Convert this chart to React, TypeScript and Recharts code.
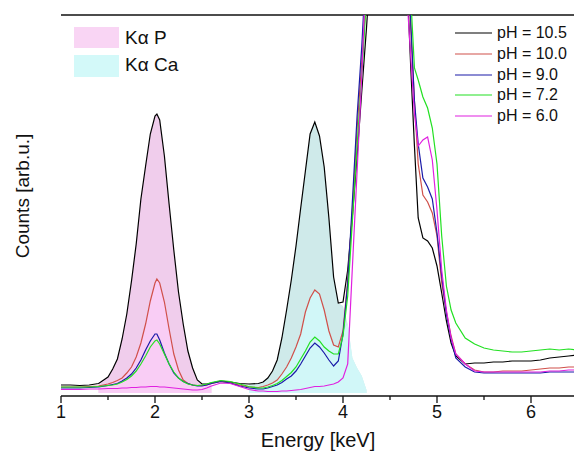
import React from 'react';
import { ComposedChart, Line, Area, XAxis, YAxis, ReferenceLine } from 'recharts';

// Energy grid [keV]
const energy = [
  1.0, 1.1, 1.2, 1.3, 1.4, 1.5, 1.55, 1.6, 1.65, 1.7, 1.75, 1.8, 1.85, 1.9, 1.95, 2.0, 2.02, 2.05, 2.1, 2.15,
  2.2, 2.25, 2.3, 2.35, 2.4, 2.45, 2.5, 2.55, 2.6, 2.7, 2.8, 2.9, 3.0, 3.1, 3.15, 3.2, 3.25, 3.3, 3.35, 3.4,
  3.45, 3.5, 3.55, 3.6, 3.65, 3.7, 3.75, 3.8, 3.85, 3.9, 3.95, 4.0, 4.05, 4.1, 4.15, 4.2, 4.25, 4.3, 4.45, 4.6,
  4.68, 4.72, 4.76, 4.8, 4.85, 4.9, 4.95, 5.0, 5.05, 5.1, 5.15, 5.2, 5.3, 5.4, 5.5, 5.6, 5.7, 5.8, 5.9, 6.0,
  6.1, 6.2, 6.3, 6.4, 6.5,
];

// Counts [arb.u.]
const ph105 = [
  11, 11, 10.5, 11, 12.5, 19, 27, 37, 57, 82, 115, 152, 197, 230, 262, 280, 282, 276, 240, 192,
  146, 104, 72, 45, 28, 16, 12, 12, 13, 15, 14, 12.5, 12, 12.5, 14, 18, 25, 36, 58, 86,
  116, 150, 188, 225, 262, 274, 260, 229, 178, 119, 93, 94, 126, 180, 240, 305, 368, 440, 900, 800,
  420, 330, 250, 178, 158, 155, 148, 130, 103, 75, 53, 40, 32, 33, 33, 34, 34, 35, 35, 35,
  36, 38, 39, 40, 41,
];
const ph100 = [
  9, 9, 9, 9.5, 10, 12, 13.5, 15.5, 18, 23, 29, 39, 53, 72, 95, 113, 117, 113, 94, 67,
  42, 26, 16, 12.5, 11, 10.5, 10.5, 11, 12.5, 14.5, 13, 11, 9, 8.5, 9.5, 11, 13, 16, 22, 29,
  38, 49, 62, 84, 98, 106, 102, 86, 65, 51, 49, 65, 115, 185, 268, 335, 400, 480, 900, 800,
  470, 370, 295, 232, 201, 194, 183, 160, 113, 84, 60, 42, 32, 26, 24, 24, 25, 25, 25, 26,
  27, 28, 28, 29, 29,
];
const ph90 = [
  8, 8, 8, 8.5, 9, 10.5, 11.5, 12.5, 15, 18, 22, 28, 36, 46, 55, 62, 62, 56, 43, 32,
  23, 18, 14.5, 12.5, 11, 10, 10, 11, 12.5, 14.5, 13, 10, 8, 7, 7, 8, 9.5, 11, 13.5, 17,
  20, 25, 32, 40, 48, 53, 49, 43, 36, 30, 35, 62, 112, 195, 280, 350, 440, 520, 900, 800,
  450, 375, 295, 252, 218, 209, 197, 163, 120, 82, 57, 38, 29, 24, 23, 23, 23, 23, 23, 23,
  23, 24, 24, 24, 24,
];
const ph72 = [
  9, 9, 9, 9, 9.5, 10.5, 11, 12, 14, 16.5, 20, 25, 32, 40, 49, 55, 56, 52, 42, 32,
  24, 18, 14.5, 12, 11, 10.5, 11, 12, 13.5, 15.5, 14.5, 12, 9.5, 8, 8, 9, 10.5, 12.5, 15.5, 19.5,
  23.5, 29, 37, 45, 54, 59, 55, 49, 45, 42, 42, 60, 100, 175, 250, 320, 400, 480, 900, 850,
  500, 400, 328, 316, 299, 288, 268, 232, 160, 110, 86, 73, 58, 52, 48, 46, 45, 44, 44, 45,
  46, 47, 46, 47, 46,
];
const ph60 = [
  6.5, 6.5, 6.5, 7, 7, 7.5, 7.5, 7.5, 8, 8, 8.5, 8.5, 9, 9, 9.5, 9.5, 9.5, 9, 9, 8.5,
  8, 7.5, 7, 6.5, 6, 6, 6.5, 8, 10, 13, 12.5, 9.5, 6.5, 5, 5, 4.5, 4.5, 4.5, 5, 5,
  5.5, 6, 6.5, 7.5, 8.5, 9.5, 9.5, 10, 11, 12, 14, 18, 32, 129, 225, 320, 440, 520, 900, 800,
  400, 340, 282, 250, 256, 259, 236, 186, 126, 86, 58, 42, 32, 25, 24, 24, 24, 24, 24, 24,
  24, 25, 25, 26, 26,
];

// Kα P / Kα Ca shaded regions (outer = envelope, inner = lighter core)
const kaPOuter = energy.map((e, i) => (e >= 1.4 && e <= 2.6 ? ph105[i] : null));
const kaPInner = energy.map((e, i) => (e >= 1.4 && e <= 2.6 ? ph100[i] : null));
const kaCaTail = [90, 72, 38, 28, 20, 6]; // 4.0 .. 4.25
const kaCaOuter = energy.map((e, i) => {
  if (e >= 3.0 && e <= 3.95) return ph105[i];
  if (e >= 4.0 && e <= 4.25) return kaCaTail[Math.round((e - 4.0) / 0.05)];
  return null;
});
const kaCaInner = energy.map((e, i) => {
  if (e >= 3.0 && e <= 3.95) return ph100[i];
  if (e >= 4.0 && e <= 4.25) return Math.min(ph100[i], kaCaTail[Math.round((e - 4.0) / 0.05)]);
  return null;
});

const xTicks = [1, 1.5, 2, 2.5, 3, 3.5, 4, 4.5, 5, 5.5, 6, 6.5];

const seriesNames = ['pH = 10.5', 'pH = 10.0', 'pH = 9.0', 'pH = 7.2', 'pH = 6.0'];
const seriesColors = ['#000000', '#d0504a', '#1a1aa8', '#22e022', '#e020e0'];
const seriesKeys = ['s105', 's100', 's90', 's72', 's60'];

const data = energy.map((e, i) => ({
  e,
  s105: ph105[i],
  s100: ph100[i],
  s90: ph90[i],
  s72: ph72[i],
  s60: ph60[i],
  pOut: kaPOuter[i],
  pIn: kaPInner[i],
  caOut: kaCaOuter[i],
  caIn: kaCaInner[i],
}));

const FONT = '"Liberation Sans", Arial, sans-serif';

const XTick = (props: any) => {
  const { x, y, payload } = props;
  const v = payload.value;
  const major = Number.isInteger(v);
  return (
    <g>
      <line x1={x} x2={x} y1={y} y2={y + (major ? 7 : 4)} stroke="#111" strokeWidth={1.3} />
      {major && (
        <text x={x} y={y + 22} textAnchor="middle" fontSize={18} fontFamily={FONT} fill="#111">
          {v}
        </text>
      )}
    </g>
  );
};

export default function App() {
  return (
    <div
      style={{
        position: 'absolute',
        left: 0,
        top: 0,
        width: 574,
        height: 455,
        overflow: 'hidden',
        background: '#fff',
        fontFamily: FONT,
      }}
    >
      <ComposedChart
        width={625}
        height={455}
        data={data}
        margin={{ top: 15, right: 0, bottom: 0, left: 61 }}
      >
        <XAxis
          dataKey="e"
          type="number"
          domain={[1, 7]}
          ticks={xTicks}
          allowDataOverflow
          axisLine={{ stroke: '#111', strokeWidth: 1.3 }}
          tickLine={false}
          tickSize={0}
          tickMargin={0}
          height={59}
          tick={<XTick />}
          interval={0}
        />
        <YAxis
          type="number"
          domain={[0, 381]}
          allowDataOverflow
          width={0}
          tick={false}
          tickLine={false}
          axisLine={{ stroke: '#111', strokeWidth: 1.3 }}
        />
        <ReferenceLine y={381} stroke="#111" strokeWidth={1.3} ifOverflow="extendDomain" />
        <Area dataKey="pOut" type="linear" baseValue={3} stroke="none" fill="#f0cdec" fillOpacity={1} isAnimationActive={false} connectNulls={false} />
        <Area dataKey="pIn" type="linear" baseValue={3} stroke="none" fill="#f9cdf5" fillOpacity={1} isAnimationActive={false} connectNulls={false} />
        <Area dataKey="caOut" type="linear" baseValue={3} stroke="none" fill="#cfeaea" fillOpacity={1} isAnimationActive={false} connectNulls={false} />
        <Area dataKey="caIn" type="linear" baseValue={3} stroke="none" fill="#d1f7f8" fillOpacity={1} isAnimationActive={false} connectNulls={false} />
        {seriesKeys.map((k, i) => (
          <Line
            key={k}
            dataKey={k}
            type="linear"
            stroke={seriesColors[i]}
            strokeWidth={1.2}
            dot={false}
            isAnimationActive={false}
          />
        ))}
      </ComposedChart>

      {/* Kα legend */}
      <div style={{ position: 'absolute', left: 74, top: 27, width: 45, height: 21, background: '#f9d5f4' }} />
      <div style={{ position: 'absolute', left: 125, top: 26, fontSize: 19, lineHeight: '24px', color: '#111' }}>Kα P</div>
      <div style={{ position: 'absolute', left: 74, top: 55, width: 45, height: 22, background: '#d3f9f9' }} />
      <div style={{ position: 'absolute', left: 125, top: 53, fontSize: 19, lineHeight: '24px', color: '#111' }}>Kα Ca</div>

      {/* pH legend */}
      {seriesNames.map((n, i) => (
        <div key={n} style={{ position: 'absolute', left: 455, top: 33 + i * 20.8 - 10, height: 20, display: 'flex', alignItems: 'center' }}>
          <svg width={38} height={20} style={{ display: 'block' }}>
            <line x1={0} x2={37} y1={10} y2={10} stroke={seriesColors[i]} strokeWidth={1.2} />
          </svg>
          <span style={{ marginLeft: 4, fontSize: 16, color: '#111', whiteSpace: 'nowrap' }}>{n}</span>
        </div>
      ))}

      {/* Axis titles */}
      <div style={{ position: 'absolute', left: 0, width: 636, top: 428, textAlign: 'center', fontSize: 20, lineHeight: '24px', color: '#111' }}>
        Energy [keV]
      </div>
      <div
        style={{
          position: 'absolute',
          left: 23,
          top: 196,
          transform: 'translate(-50%, -50%) rotate(-90deg)',
          fontSize: 19,
          whiteSpace: 'nowrap',
          color: '#111',
        }}
      >
        Counts [arb.u.]
      </div>
    </div>
  );
}
